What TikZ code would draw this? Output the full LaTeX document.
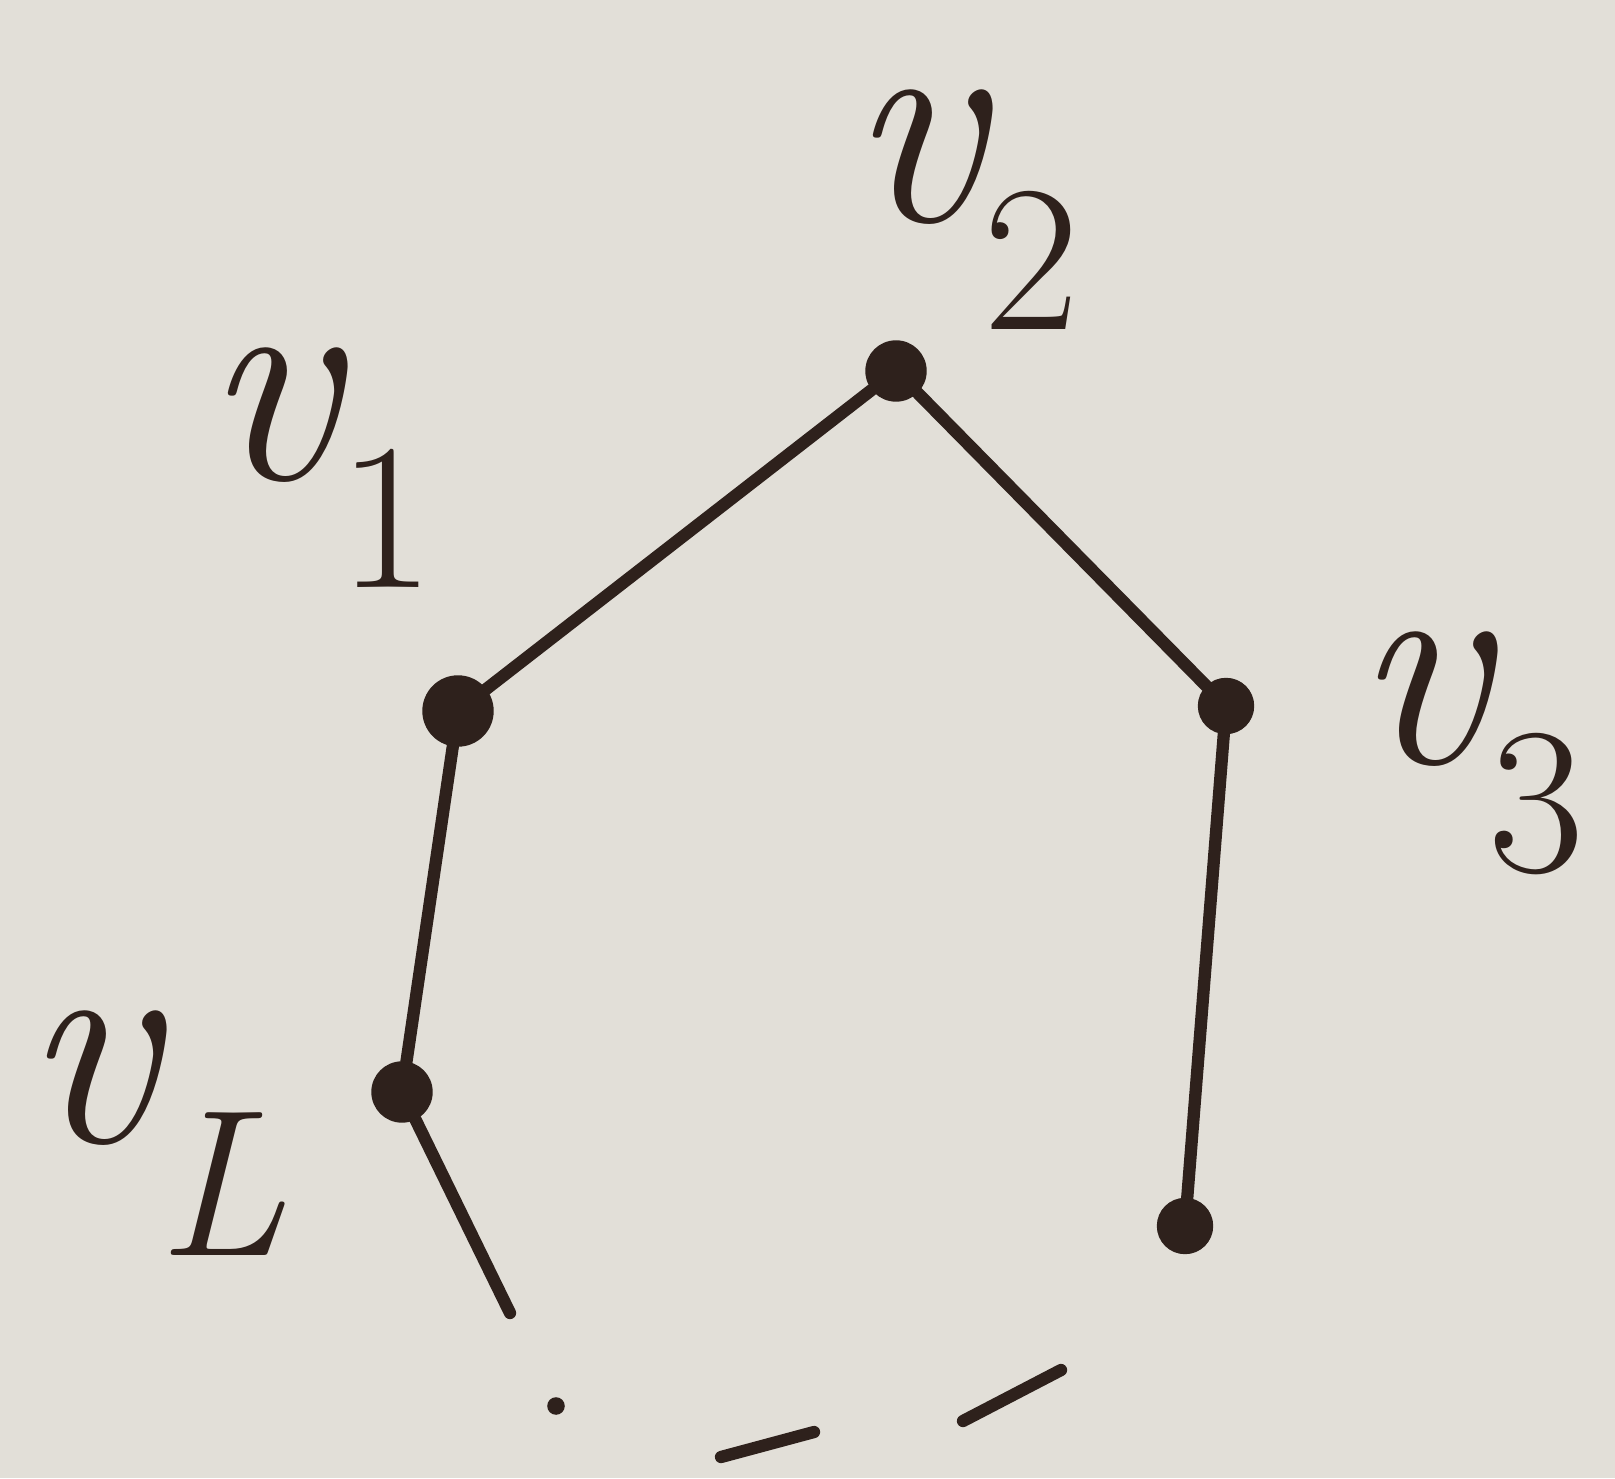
\documentclass[tikz,border=0pt]{standalone}
\usepackage{amsmath}
\usetikzlibrary{positioning}
\definecolor{paper}{HTML}{E2DFD8}
\definecolor{ink}{HTML}{2E211C}
\tikzset{
	vertex/.style={circle, fill=ink, draw=ink, inner sep=0pt, minimum size=6mm}
}
\tikzset{
	edge/.style={draw=ink, line width=3.5pt, line cap=round}
}
\tikzset{
	vlabel/.style={text=ink, font=\fontsize{85}{85}\selectfont, inner sep=0pt}
}
\begin{document}
\begin{tikzpicture}
\fill[paper] (0,0) rectangle (16.15,14.78);
\useasboundingbox (0,0) rectangle (16.15,14.78);

\node[vertex] (vtwo) at (8.96,11.07) {};
\node[vertex, minimum size=7mm] (vone) at (4.58,7.67) {};
\node[vertex, minimum size=5.5mm] (vthree) at (12.26,7.72) {};
\node[vertex] (vL) at (4.02,3.86) {};
\node[vertex, minimum size=5.5mm] (vend) at (11.85,2.52) {};

\coordinate (tail) at (5.10,1.65);
\coordinate (dot) at (5.56,0.72);
\coordinate (dA) at (7.21,0.21);
\coordinate (dB) at (8.14,0.46);
\coordinate (dC) at (9.63,0.57);
\coordinate (dD) at (10.61,1.08);

\node[vlabel] (lone) at (3.20,10.10) {$\textit{v}_{\textrm{1}}$};
\node[vlabel] (ltwo) at (9.65,12.68) {$\textit{v}_{\textrm{2}}$};
\node[vlabel] (lthree) at (14.70,7.25) {$\textit{v}_{\textrm{3}}$};
\node[vlabel] (lL) at (1.55,3.45) {$\textit{v}_{\textit{L}}$};

\draw[edge] (vone) -- (vtwo);
\draw[edge] (vtwo) -- (vthree);
\draw[edge] (vone) -- (vL);
\draw[edge] (vL) -- (tail);
\draw[edge] (vthree) -- (vend);

% the rest of the cycle
\fill[ink] (dot) circle (2.5pt);
\draw[edge] (dA) -- (dB);
\draw[edge] (dC) -- (dD);

\end{tikzpicture}
\end{document}
